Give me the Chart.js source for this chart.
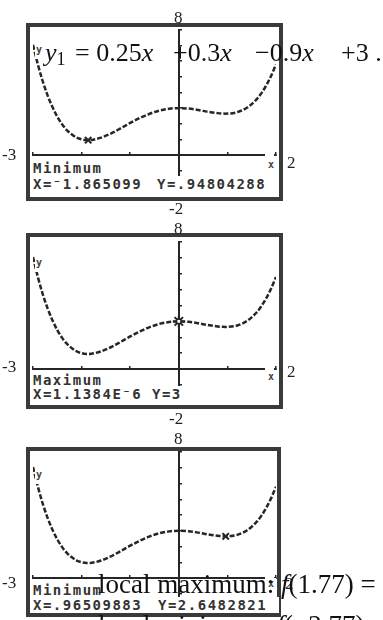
<!DOCTYPE html>
<html>
<head>
<meta charset="utf-8">
<script src="https://cdn.jsdelivr.net/npm/chart.js@4.4.1/dist/chart.umd.min.js"></script>
<style>
  html, body { margin: 0; padding: 0; background: #fff; }
  #page { position: relative; width: 383px; height: 620px; overflow: hidden; }
  .scr { position: absolute; left: 0; width: 383px; }
  .scr canvas { position: absolute; left: 0; top: 0; }
  .frame { position: absolute; border: 4px solid #3a3a3a; box-sizing: border-box; }
  .calc { position: absolute; font-family: "DejaVu Sans Mono", monospace; font-weight: bold;
          font-size: 14px; line-height: 14px; letter-spacing: 1.5px; color: #333;
          background: #fff; white-space: pre; }
  .tiny { position: absolute; font-family: "DejaVu Sans Mono", monospace; font-weight: bold;
          font-size: 10px; line-height: 10px; color: #444; background: #fff; }
  .lbl { position: absolute; font-family: "Liberation Serif", "Times New Roman", serif;
         font-size: 17px; line-height: 17px; color: #222; white-space: pre; }
  .big { position: absolute; font-family: "Liberation Serif", "Times New Roman", serif;
         font-size: 26px; line-height: 26px; color: #111; white-space: pre; }
  .big sub { font-size: 18px; vertical-align: -4px; line-height: 0; }
</style>
</head>
<body>
<div id="page"></div>
<script>
  const xMin = -3, xMax = 2, yMin = -2, yMax = 8;

  // y1 curve as traced on the screens
  const curveX = [-3, -2.9, -2.8, -2.7, -2.6, -2.5, -2.4, -2.3, -2.2, -2.1, -2, -1.9, -1.865, -1.8,
    -1.6, -1.4, -1.2, -1, -0.8, -0.6, -0.4, -0.2, 0, 0.2, 0.4, 0.6, 0.8, 0.9, 0.965, 1,
    1.2, 1.4, 1.6, 1.7, 1.8, 1.9, 2];
  const curveY = [7.05, 5.80, 4.72, 3.82, 3.07, 2.45, 1.96, 1.58, 1.31, 1.11, 1.00, 0.95, 0.948, 0.96,
    1.11, 1.37, 1.70, 2.05, 2.37, 2.64, 2.84, 2.96, 3.00, 2.97, 2.88, 2.77, 2.68, 2.654, 2.648, 2.65,
    2.74, 3.02, 3.56, 3.96, 4.46, 5.07, 5.80];

  // trace cursor on each screen
  const cursorX = [-1.865099, 0.0000011384, 0.96509883];
  const cursorY = [0.94804288, 3, 2.6482821];
  const cursorName = ['Minimum', 'Maximum', 'Minimum'];
  const cursorXText = ['X=\u207B1.865099', 'X=1.1384E\u207B6', 'X=.96509883'];
  const cursorYText = ['Y=.94804288', 'Y=3', 'Y=2.6482821'];

  // ---------- Layout of the three screens (page px) ----------
  const screens = [
    { top: 0,   h: 210, y8: 30, y0: 155, frame: [26, 23, 283, 201], l1: 163, l2: 179, yAt: 157,
      ylab: 47, xlab: 161, lab8: 12, labM2: 203, labL: 149, labR: 157 },
    { top: 210, h: 210, y8: 32, y0: 159, frame: [26, 23, 283, 199], l1: 165, l2: 179, yAt: 152,
      ylab: 50, xlab: 163, lab8: 13, labM2: 203, labL: 151, labR: 156 },
    { top: 420, h: 200, y8: 32, y0: 158, frame: [26, 27, 281, 197], l1: 165, l2: 180, yAt: 158,
      ylab: 52, xlab: 160, lab8: 13, labM2: null, labL: 157, labR: 158 },
  ];
  const AREA_L = 33, AREA_R = 276;
  const INK = '#262626';

  const page = document.getElementById('page');

  function add(parent, cls, text, css) {
    const el = document.createElement('div');
    el.className = cls;
    el.textContent = text;
    Object.assign(el.style, css);
    parent.appendChild(el);
    return el;
  }

  screens.forEach((s, i) => {
    const box = document.createElement('div');
    box.className = 'scr';
    box.style.top = s.top + 'px';
    box.style.height = s.h + 'px';
    page.appendChild(box);

    const cv = document.createElement('canvas');
    cv.width = 383;
    cv.height = s.h;
    box.appendChild(cv);

    const yBottom = s.y0 + (s.y0 - s.y8) / 4; // pixel of y = -2
    const isMax = cursorName[i] === 'Maximum';

    new Chart(cv, {
      type: 'line',
      data: {
        datasets: [
          {
            data: curveX.map((x, k) => ({ x, y: curveY[k] })),
            borderColor: INK,
            borderWidth: 2.5,
            borderDash: [5, 2],
            pointRadius: 0,
            cubicInterpolationMode: 'monotone',
            order: 2,
          },
          {
            type: 'scatter',
            data: [{ x: cursorX[i], y: cursorY[i] }],
            pointStyle: isMax ? 'star' : 'crossRot',
            pointRadius: isMax ? 6 : 4.5,
            borderColor: INK,
            borderWidth: 2,
            backgroundColor: '#fff',
            order: 1,
          },
          {
            type: 'scatter',
            data: isMax ? [{ x: cursorX[i], y: cursorY[i] }] : [],
            pointStyle: 'rect',
            pointRadius: 3,
            borderColor: INK,
            borderWidth: 1.5,
            backgroundColor: '#fff',
            order: 0,
          },
        ],
      },
      options: {
        responsive: false,
        animation: false,
        events: [],
        layout: { padding: { left: AREA_L, right: 383 - AREA_R, top: s.y8, bottom: s.h - yBottom } },
        plugins: { legend: { display: false }, tooltip: { enabled: false } },
        scales: {
          x: {
            type: 'linear', min: xMin, max: xMax, position: { y: 0 },
            ticks: { display: false, stepSize: 1 },
            grid: { drawOnChartArea: false, tickLength: -4, color: INK, lineWidth: 1.5 },
            border: { color: INK, width: 2 },
          },
          y: {
            type: 'linear', min: yMin, max: yMax, position: { x: 0 },
            ticks: { display: false, stepSize: 1 },
            grid: { drawOnChartArea: false, tickLength: -4, color: INK, lineWidth: 1.5 },
            border: { color: INK, width: 2 },
          },
        },
      },
    });

    // frame of the calculator screen
    const [fl, ft, fr, fb] = s.frame;
    add(box, 'frame', '', { left: fl + 'px', top: ft + 'px', width: (fr - fl) + 'px', height: (fb - ft) + 'px' });

    // axis name labels on the screen
    add(box, 'tiny', 'y', { left: '35px', top: (s.ylab - 3) + 'px', padding: '1px 2px 4px 1px' });
    add(box, 'tiny', 'x', { left: '266px', top: (s.xlab - 2) + 'px', padding: '1px 2px 2px 2px', height: '10px' });
    add(box, 'tiny', '', { left: '265px', top: (s.y0 - 2) + 'px', width: '9px', height: '5px' });

    // trace read-out
    add(box, 'calc', cursorName[i], { left: '31px', top: (s.l1 - 3) + 'px', padding: '1px 2px 1px 2px' });
    const l2 = add(box, 'calc', '', { left: '30px', top: (s.l2 - 3) + 'px', width: '249px', height: (fb - 4 - (s.l2 - 3)) + 'px' });
    add(l2, 'calc', cursorXText[i], { left: '3px', top: '1px' });
    add(l2, 'calc', cursorYText[i], { left: (s.yAt - 30) + 'px', top: '1px' });

    // window values around the screen
    add(box, 'lbl', '8', { left: '174px', top: (s.lab8 - 3) + 'px' });
    if (s.labM2 !== null) add(box, 'lbl', '-2', { left: '169px', top: (s.labM2 - 3) + 'px' });
    add(box, 'lbl', '-3', { left: '2px', top: (s.labL - 3) + 'px' });
    add(box, 'lbl', '2', { left: (fr + 4) + 'px', top: (s.labR - 3) + 'px' });
  });

  // ---------- Text from the page scan laid over the screens ----------
  add(page, 'big', '', { left: '45px', top: '40px' }).innerHTML = '<i>y</i><sub>1</sub>';
  add(page, 'big', '', { left: '75px', top: '40px' }).innerHTML = '= 0.25<i>x</i>';
  add(page, 'big', '', { left: '173px', top: '40px' }).innerHTML = '+0.3<i>x</i>';
  add(page, 'big', '', { left: '255px', top: '40px' }).innerHTML = '\u22120.9<i>x</i>';
  add(page, 'big', '+3 .', { left: '341px', top: '40px' });

  add(page, 'big', '', { left: '98px', top: '571px', fontSize: '27px' }).innerHTML = 'local maximum: <i>f</i>(1.77) =';
  add(page, 'big', '', { left: '98px', top: '612px', fontSize: '27px' }).innerHTML = 'local minimum: <i>f</i>(\u22122.77) \u2248';
</script>
</body>
</html>
